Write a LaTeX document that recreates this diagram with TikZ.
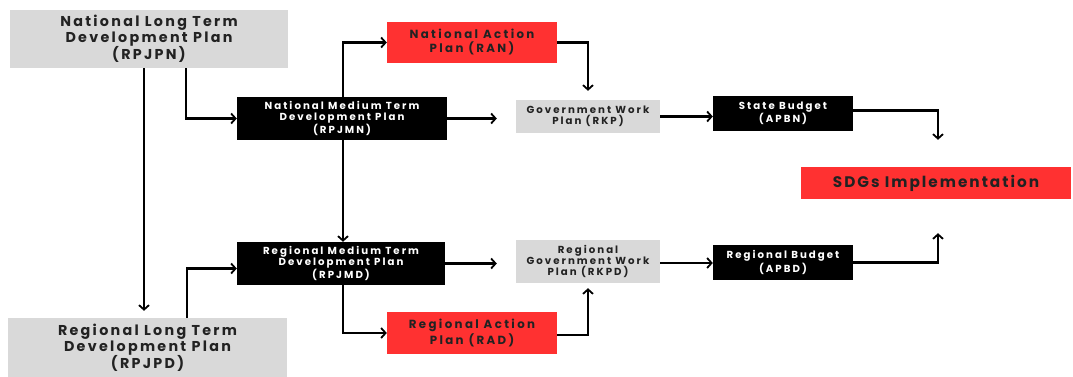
\documentclass[tikz,border=0pt]{standalone}
\usepackage{fontspec}
\setmainfont{Poppins}
\newfontfamily\boxfontA{Poppins}[LetterSpace=16]
\newfontfamily\boxfontB{Poppins}[LetterSpace=20]
\newfontfamily\boxfontC{Poppins}[LetterSpace=13]
\usetikzlibrary{arrows.meta}
\definecolor{planGray}{HTML}{D9D9D9}
\definecolor{planRed}{HTML}{FF3131}
\definecolor{planInk}{HTML}{222222}
\begin{document}
\begin{tikzpicture}[x=1pt,y=-1pt,
  box/.style={rectangle,inner sep=0pt,align=center},
  graybox/.style={box,fill=planGray,text=planInk},
  redbox/.style={box,fill=planRed,text=planInk},
  blackbox/.style={box,fill=black,text=white},
  arr/.style={line width=2.4pt,-{Straight Barb[length=4.5pt,width=10pt,line width=1.8pt]}},
  big/.style={font=\boxfontA\bfseries\fontsize{14.3}{14.5}\selectfont},
  mid/.style={font=\boxfontB\bfseries\fontsize{11.8}{14}\selectfont},
  small/.style={font=\boxfontB\bfseries\fontsize{10.2}{11}\selectfont},
  huge/.style={font=\boxfontC\bfseries\fontsize{15.3}{16}\selectfont},
]
\useasboundingbox[fill=white] (0,0) rectangle (1073,376);

% long term plans
\node[graybox,big,minimum width=278pt,minimum height=58pt] (nlt) at (149,39)
  {National Long Term\\Development Plan\\(RPJPN)};
\node[graybox,big,minimum width=279pt,minimum height=60pt] (rlt) at (147.5,348)
  {Regional Long Term\\Development Plan\\(RPJPD)};

% medium term plans
\node[blackbox,small,minimum width=210pt,minimum height=43pt] (nm) at (342,118.5)
  {National Medium Term\\Development Plan\\(RPJMN)};
\node[blackbox,small,minimum width=208pt,minimum height=43pt] (rm) at (341,263.5)
  {Regional Medium Term\\Development Plan\\(RPJMD)};

% action plans
\node[redbox,mid,minimum width=170pt,minimum height=41pt] (ran) at (472,42.5)
  {National Action\\Plan (RAN)};
\node[redbox,mid,minimum width=170pt,minimum height=42pt] (rad) at (472,333)
  {Regional Action\\Plan (RAD)};

% work plans
\node[graybox,small,minimum width=144pt,minimum height=33pt] (rkp) at (588,116.5)
  {Government Work\\Plan (RKP)};
\node[graybox,small,minimum width=144pt,minimum height=43pt] (rkpd) at (588,261.5)
  {Regional\\Government Work\\Plan (RKPD)};

% budgets
\node[blackbox,small,minimum width=140pt,minimum height=35pt] (sb) at (783,113.5)
  {State Budget\\(APBN)};
\node[blackbox,small,minimum width=140pt,minimum height=35pt] (rb) at (783,262.5)
  {Regional Budget\\(APBD)};

% outcome
\node[redbox,huge,minimum width=270pt,minimum height=32pt] (sdg) at (936,183)
  {SDGs Implementation};

% connectors
\draw[arr,shorten >=7pt] ([xshift=-5pt]nlt.south) -- ([xshift=-3.5pt]rlt.north);
\draw[arr] ([xshift=37pt]nlt.south) |- (nm.west);
\draw[arr] ([xshift=1pt]nm.north) |- (ran.west);
\draw[arr,shorten >=9pt] (ran.east) -| (rkp.north);
\draw[arr,shorten >=19pt] (nm.east) -- (nm.east -| rkp.west);
\draw[arr] (rkp.east) -- (rkp.east -| sb.west);
\draw[arr,shorten >=27pt] ([yshift=3pt]sb.east) -| ([xshift=2pt]sdg.north);
\draw[arr,shorten >=34pt] (rb.east) -| ([xshift=2pt]sdg.south);
\draw[arr] ([xshift=1pt]nm.south) -- ([xshift=1pt]nm.south |- rm.north);
\draw[arr] ([xshift=39.5pt]rlt.north) |- ([yshift=-5pt]rm.west);
\draw[arr,shorten >=19pt] (rm.east) -- (rm.east -| rkpd.west);
\draw[arr] ([xshift=2pt]rm.south) |- (rad.west);
\draw[arr,shorten >=5pt] ([yshift=-2pt]rad.east) -| (rkpd.south);
\draw[arr] ([yshift=-1.5pt]rkpd.east) -- ([yshift=-1.5pt]rkpd.east -| rb.west);
\end{tikzpicture}
\end{document}
